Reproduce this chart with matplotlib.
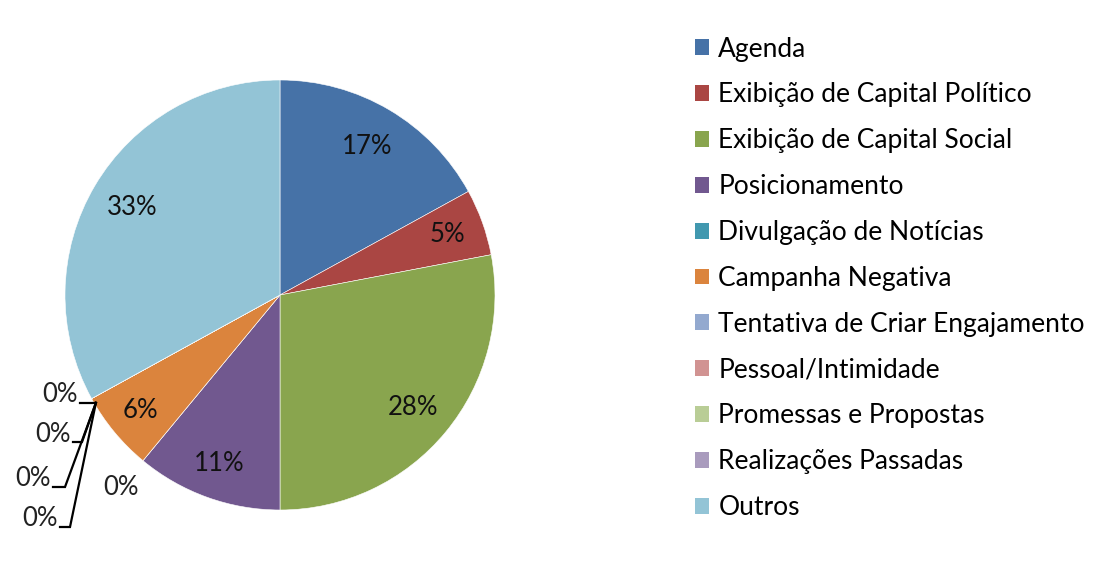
import numpy as np
import matplotlib
matplotlib.use("Agg")
import matplotlib.pyplot as plt
from matplotlib.patches import Patch

plt.rcParams['font.family'] = ['Lato', 'DejaVu Sans']

categorias = ["Agenda", "Exibição de Capital Político", "Exibição de Capital Social",
              "Posicionamento", "Divulgação de Notícias", "Campanha Negativa",
              "Tentativa de Criar Engajamento", "Pessoal/Intimidade",
              "Promessas e Propostas", "Realizações Passadas", "Outros"]
valores = [17, 5, 28, 11, 0, 6, 0, 0, 0, 0, 33]
rotulos = ["17%", "5%", "28%", "11%", "0%", "6%", "0%", "0%", "0%", "0%", "33%"]
cores = ["#4672A7", "#AA4643", "#89A54E", "#71588F", "#4198AF", "#DB843D",
         "#93A9CF", "#D19392", "#B9CD96", "#A99BBD", "#93C4D6"]

W, H = 1107, 569
fig = plt.figure(figsize=(W / 100, H / 100), dpi=100)
fig.patch.set_facecolor("white")

# pie axes: centre (280,295) px, radius 215 px
cx, cy, R = 280, 295, 215
ax = fig.add_axes([(cx - R) / W, (H - cy - R) / H, 2 * R / W, 2 * R / H])

wedges, _ = ax.pie(valores, colors=cores, startangle=90, counterclock=False,
                   radius=1, wedgeprops=dict(edgecolor="white", linewidth=0.4))
ax.set_xlim(-1, 1)
ax.set_ylim(-1, 1)
ax.axis("off")

fs = 18.5

# labels inside the non-zero slices
pos_rotulo = {0: (0.80, None), 1: (0.83, None), 2: (0.81, -40.4), 3: (0.835, None),
              5: (0.84, None), 10: (0.80, None)}
for i, (r, ang) in pos_rotulo.items():
    w = wedges[i]
    if ang is None:
        ang = (w.theta1 + w.theta2) / 2
    a = np.deg2rad(ang)
    ax.text(r * np.cos(a), r * np.sin(a), rotulos[i], ha="center", va="center",
            fontsize=fs, color="#111111", clip_on=False)

# zero slice "Divulgação de Notícias" label outside
a = np.deg2rad(wedges[4].theta1)
ax.text(1.16 * np.cos(a), 1.16 * np.sin(a), rotulos[4], ha="center", va="center",
        fontsize=fs, color="#222222", clip_on=False)

# four zero slices after "Campanha Negativa" with leader lines
a = np.deg2rad(wedges[6].theta1)
px, py = 1.0 * np.cos(a) + 0.02, 1.0 * np.sin(a) - 0.02
def px2d(x, y):
    return (x - cx) / R, (cy - y) / R
# (label right edge x, line end x, line y) in pixels
lideres = [(80, 92, 403), (73, 82, 442), (53, 65, 487), (60, 70, 527)]
for k, (x0, x1, yl) in enumerate(lideres):
    i = 6 + k
    ax0, ay = px2d(x0, yl)
    ax1, _ = px2d(x1, yl)
    ax.plot([ax0, ax1, px], [ay, ay, py], color="black", lw=1.6, clip_on=False,
            solid_joinstyle="miter")
    tx, ty = px2d(x0 - 2, yl - 8)
    ax.text(tx, ty, rotulos[i], ha="right", va="center", fontsize=fs,
            color="#222222", clip_on=False)

# legend
fl = 19
handles = [Patch(facecolor=c, edgecolor="none") for c in cores]
leg = fig.legend(handles, categorias, loc="upper left",
                 bbox_to_anchor=(684 / W, 1 - 26 / H), frameon=False,
                 fontsize=fl, handlelength=0.55, handleheight=0.55,
                 handletextpad=0.35, labelspacing=0.79, borderaxespad=0)

fig.savefig("out.png", dpi=100, facecolor="white")
